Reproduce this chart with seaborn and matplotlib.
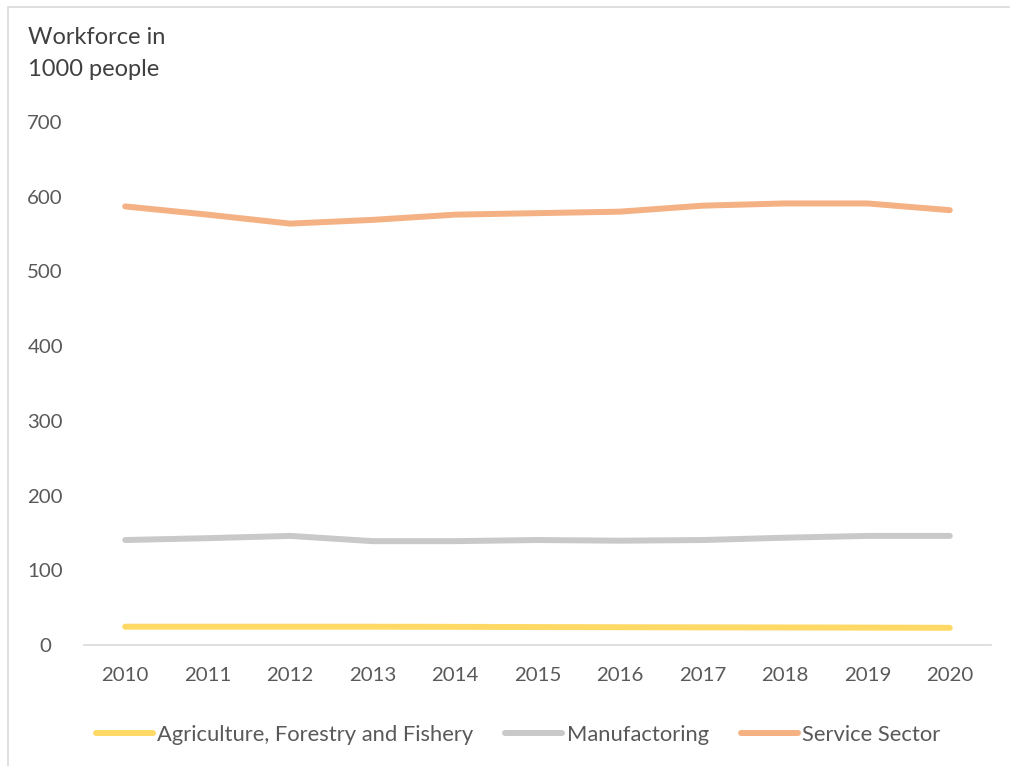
import matplotlib
matplotlib.use("Agg")
import matplotlib.pyplot as plt
from matplotlib.patches import Rectangle
import seaborn as sns
import pandas as pd

years = ["2010", "2011", "2012", "2013", "2014", "2015", "2016", "2017", "2018", "2019", "2020"]
agriculture = [24.5, 24.5, 24.5, 24.5, 24.3, 24.0, 23.8, 23.6, 23.5, 23.3, 23.0]
manufacturing = [140.5, 143, 146, 139, 139, 140.5, 139.6, 140.5, 143.6, 146, 146]
service = [587, 576, 564, 569, 576, 578, 580, 588, 591, 591, 582]

series_names = ["Agriculture, Forestry and Fishery", "Manufactoring", "Service Sector"]
series_colors = ["#FFD966", "#C9C9C9", "#F4B183"]
y_ticks = [0, 100, 200, 300, 400, 500, 600, 700]

df = pd.DataFrame({
    "Year": years * 3,
    "Value": agriculture + manufacturing + service,
    "Sector": [series_names[0]] * len(years) + [series_names[1]] * len(years) + [series_names[2]] * len(years),
})
df["pos"] = df["Year"].map({y: i for i, y in enumerate(years)})

sns.set_theme(style="white")
plt.rcParams["font.family"] = ["Lato", "DejaVu Sans"]
text_color = "#595959"

fig = plt.figure(figsize=(10.1, 7.66), dpi=100)
ax = fig.add_axes([84 / 1010, 1 - 645 / 766, (991 - 84) / 1010, (645 - 122) / 766])

sns.lineplot(data=df, x="pos", y="Value", hue="Sector", hue_order=series_names,
             palette=series_colors, linewidth=4.3, ax=ax, legend=False,
             solid_capstyle="round")

ax.set_xlim(-0.5, len(years) - 0.5)
ax.set_ylim(0, 700)
ax.set_xticks(range(len(years)))
ax.set_xticklabels(years)
ax.set_yticks(y_ticks)
ax.set_yticklabels([str(t) for t in y_ticks])
ax.set_xlabel("")
ax.set_ylabel("")
ax.tick_params(axis="both", length=0, labelsize=14.7, colors=text_color)
ax.tick_params(axis="x", pad=16)
ax.tick_params(axis="y", pad=28)
for lab in ax.get_yticklabels():
    lab.set_horizontalalignment("center")
for side in ["top", "right", "left"]:
    ax.spines[side].set_visible(False)
ax.spines["bottom"].set_color("#D9D9D9")
ax.spines["bottom"].set_linewidth(1.2)

fig.text(28 / 1010, 1 - 37 / 766, "Workforce in", fontsize=17, color="#404040", va="center", ha="left")
fig.text(28 / 1010, 1 - 70 / 766, "1000 people", fontsize=17, color="#404040", va="center", ha="left")

handles = [plt.Line2D([], [], color=c, linewidth=4.3, solid_capstyle="round") for c in series_colors]
fig.legend(handles, series_names, loc="center", bbox_to_anchor=(518 / 1010, 1 - 735 / 766),
           ncol=3, frameon=False, fontsize=15.8, handlelength=2.6, handletextpad=0.2,
           columnspacing=1.45, labelcolor=text_color)

fig.patches.append(Rectangle((8 / 1010, -0.01), 1.01, 1 - 7 / 766 + 0.01, transform=fig.transFigure,
                             fill=False, edgecolor="#D9D9D9", linewidth=1.2))

fig.savefig("out.png", dpi=100)
